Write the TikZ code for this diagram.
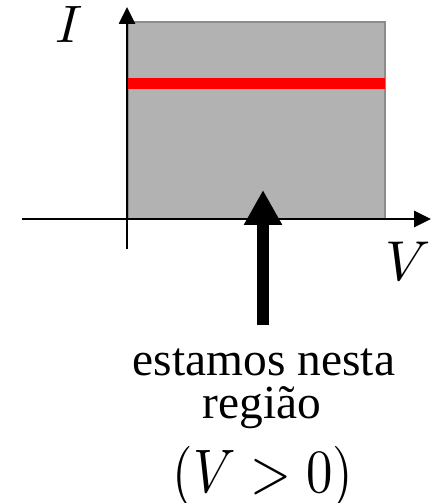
\documentclass[tikz,border=0pt]{standalone}
\usepackage{fontspec}
\setmainfont{Liberation Serif}
\usetikzlibrary{arrows.meta}
\tikzset{
  axis/.style={line width=1.5pt, -{Triangle[length=0.34cm, width=0.32cm]}},
  bigfont/.style={font=\fontsize{27}{32}\selectfont},
}
\newcommand{\bigmath}[3]{\scalebox{#1}[#2]{$#3$}}
\begin{document}
\begin{tikzpicture}[x=0.02cm, y=-0.02cm]
          \useasboundingbox (0, 0) rectangle (443, 503);
          \filldraw[fill=black!30, draw=black!45, line width=1pt] (128, 22) rectangle (385, 219);
          \draw[color=red, line width=6.3pt] (128, 83.5) -- (385, 83.5);
          \coordinate (vstart) at (22, 219);
          \coordinate (vend) at (431, 219);
          \coordinate (istart) at (127, 249);
          \coordinate (iend) at (127, 7);
          \draw[axis] (vstart) -- (vend);
          \draw[axis] (istart) -- (iend);
          \node[anchor=base] (ilabel) at (69, 43) {\bigmath{3.0}{3.0}{I}};
          \node[anchor=base] (vlabel) at (408, 280) {\bigmath{3.2}{3.2}{V}};
          \node[bigfont, anchor=base] (txt1) at (264, 375) {estamos nesta};
          \node[bigfont, anchor=base] (txt2) at (262, 418) {região};
          \node[anchor=base] (cond) at (263, 492) {\bigmath{3.0}{3.5}{(V > 0)}};
          \coordinate (tail) at (263, 325);
          \coordinate (tip) at (263, 190);
          \draw[line width=6.8pt, -{Triangle[length=0.7cm, width=0.72cm]}] (tail) -- (tip);
        \end{tikzpicture}
\end{document}
